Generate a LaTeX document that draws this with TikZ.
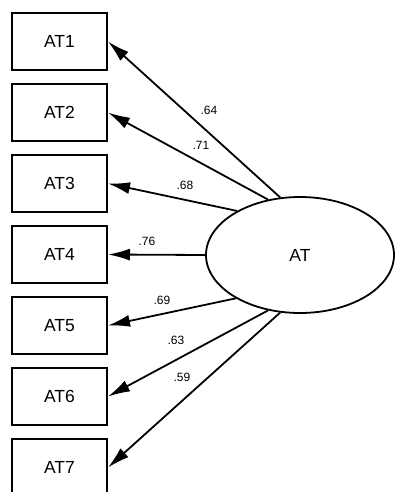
\documentclass[tikz,border=0pt]{standalone}
\usepackage{fontspec}
\setmainfont{Liberation Sans}
\usetikzlibrary{arrows.meta, shapes.geometric}

\tikzset{
    itembox/.style={draw, line width=2pt, minimum width=95pt, minimum height=57pt, inner sep=0pt, font=\fontsize{17.5}{17.5}\selectfont},
    factor/.style={draw, ellipse, line width=1.8pt, minimum width=188pt, minimum height=116pt, inner sep=0pt, font=\fontsize{17.5}{17.5}\selectfont},
    loading/.style={line width=1.8pt, -{Latex[length=22pt, width=12pt]}},
    weight/.style={font=\fontsize{12}{12}\selectfont, inner sep=0pt}
}

\begin{document}
\begin{tikzpicture}[x=1pt, y=-1pt]
        % Frame of the picture
        \useasboundingbox (0,0) rectangle (394,492);

        % Indicator boxes
        \foreach \i in {1,...,7} {
            \node[itembox] (AT\i) at (59.5, {41.5 + 71*(\i-1)}) {AT\i};
        }

        % Latent factor
        \node[factor] (AT) at (300,255) {AT};

        % Loadings
        \draw[loading] (AT.109) -- (AT1.east);
        \draw[loading] (AT.120) -- (AT2.east);
        \draw[loading] (AT.145) -- (AT3.east);
        \draw[loading] (AT.west) -- (AT4.east);
        \draw[loading] (AT.214) -- (AT5.east);
        \draw[loading] (AT.240) -- (AT6.east);
        \draw[loading] (AT.251) -- (AT7.east);

        % Labels for loadings
        \node[weight] (w1) at (209,110) {.64};
        \node[weight] (w2) at (201,145) {.71};
        \node[weight] (w3) at (185,185) {.68};
        \node[weight] (w4) at (147,241) {.76};
        \node[weight] (w5) at (162,300) {.69};
        \node[weight] (w6) at (176,340) {.63};
        \node[weight] (w7) at (182,377) {.59};

    \end{tikzpicture}
\end{document}
